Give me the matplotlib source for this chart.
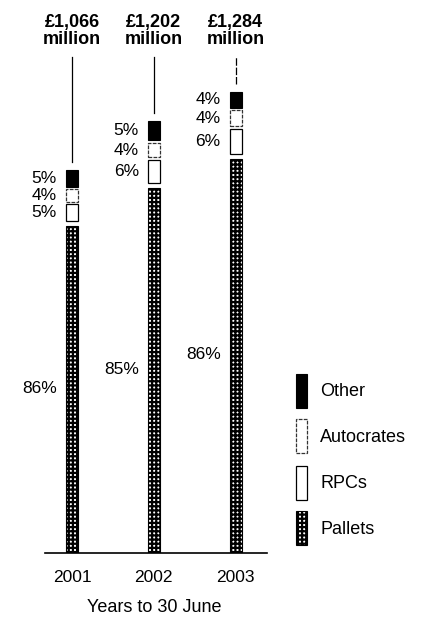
import matplotlib.pyplot as plt
from matplotlib.patches import Rectangle

plt.rcParams['font.family'] = ['Liberation Sans', 'DejaVu Sans']
plt.rcParams['hatch.linewidth'] = 1.6

years = ['2001', '2002', '2003']
totals = [1066, 1202, 1284]  # £ million
totals_text = ['£1,066\nmillion', '£1,202\nmillion', '£1,284\nmillion']
# shares, bottom to top
segments = ['Pallets', 'RPCs', 'Autocrates', 'Other']
pallets = [86, 85, 86]
rpcs = [5, 6, 6]
autocrates = [4, 4, 4]
other = [5, 5, 4]

W, H = 421, 617
fig = plt.figure(figsize=(W / 100, H / 100), dpi=100)

# axes in pixel terms: baseline at y=553, x from 45 to 267
x0, x1, ybase = 45, 267, 553
ax = fig.add_axes([x0 / W, (H - ybase) / H, (x1 - x0) / W, ybase / H])
ymax = 1539
ax.set_ylim(0, ymax)
xl, xr = -0.33, 2.385
ax.set_xlim(xl, xr)
ax.axis('off')
px = ymax / ybase  # data units per pixel
pxx = (xr - xl) / (x1 - x0)

styles = {
    'Pallets': dict(facecolor='white', edgecolor='black', hatch='++++', lw=0.8),
    'RPCs': dict(facecolor='white', edgecolor='black', lw=0.9),
    'Autocrates': dict(facecolor='white', edgecolor='#333333', lw=0.9, ls=(0, (3, 1))),
    'Other': dict(facecolor='black', edgecolor='black', lw=0.8),
}
shares = {'Pallets': pallets, 'RPCs': rpcs, 'Autocrates': autocrates, 'Other': other}

width = 12 * pxx
gap = 2.5 * px
for i, yr in enumerate(years):
    bottom = 0
    for seg in segments:
        h = totals[i] * shares[seg][i] / 100
        off = gap if seg != 'Pallets' else 0
        ax.bar(i, h - gap, width=width, bottom=bottom + off, **styles[seg])
        ax.text(i - 15 * pxx, bottom + h / 2 + off / 2, f'{shares[seg][i]}%',
                ha='right', va='center', fontsize=12.5)
        bottom += h
    # leader line from the total label down to the bar
    ax.plot([i, i], [totals[i] + 8 * px, (ybase - 57) * px], color='black', lw=0.9,
            ls='-' if i < 2 else (0, (6, 1.5)))
    ax.text(i, (ybase - 31) * px, totals_text[i], ha='center', va='center',
            fontsize=13, fontweight='bold', linespacing=1.0)
    ax.text(i, -25 * px, yr, ha='center', va='center', fontsize=12.5, clip_on=False)

ax.plot([xl, xr], [0, 0], color='black', lw=1.2, clip_on=False)
fig.text(154 / W, 1 - 607 / H, 'Years to 30 June', ha='center', va='center', fontsize=13)

# legend
leg_y = [391, 436, 483, 528]
for seg, y in zip(['Other', 'Autocrates', 'RPCs', 'Pallets'], leg_y):
    hgt = 34
    fig.add_artist(Rectangle((296 / W, 1 - (y + hgt / 2) / H), 11 / W, hgt / H,
                             transform=fig.transFigure, **styles[seg]))
    fig.text(320 / W, 1 - (y + 1) / H, seg, ha='left', va='center', fontsize=13)

fig.savefig('out.png', dpi=100)
